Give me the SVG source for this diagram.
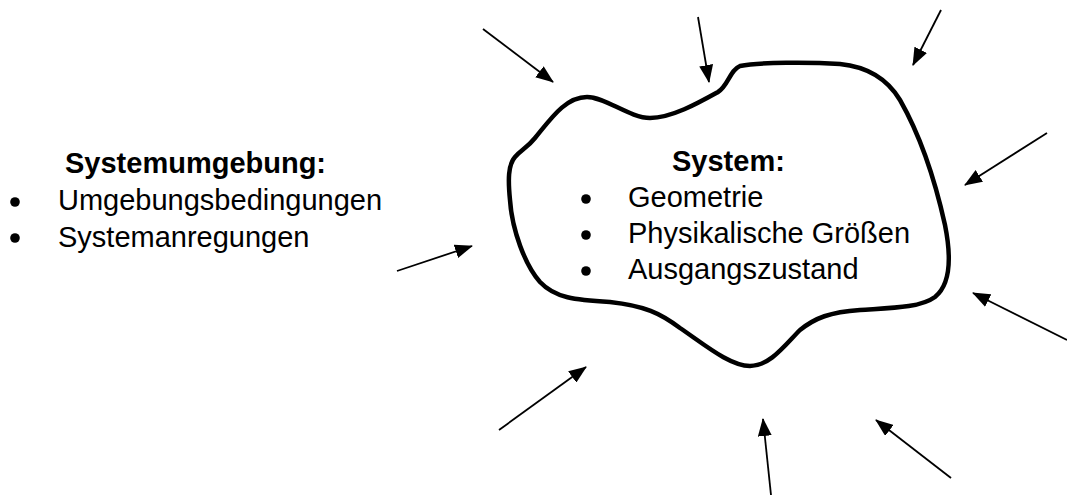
<svg xmlns="http://www.w3.org/2000/svg" width="1067" height="495" viewBox="0 0 1067 495">
  <style>
    text { font-family: "Liberation Sans", Arial, sans-serif; font-size: 29px; fill: #000; }
    .title { font-weight: bold; }
    .bullet { fill: #000; }
    .outline { fill: none; stroke: #000; stroke-width: 4.5; stroke-linejoin: round; }
    .arrow { stroke: #000; stroke-width: 1.8; fill: none; marker-end: url(#head); }
  </style>
  <defs>
    <marker id="head" markerUnits="userSpaceOnUse" markerWidth="18" markerHeight="14" refX="17" refY="7" orient="auto">
      <path d="M0,0 L18,7 L0,14 Z" fill="#000"/>
    </marker>
  </defs>
  <rect width="1067" height="495" fill="#fff"/>

  <!-- environment description -->
  <g id="environment">
    <text class="title" x="65" y="173">Systemumgebung:</text>
    <circle class="bullet" cx="15" cy="202" r="4.8"/>
    <text x="58" y="210">Umgebungsbedingungen</text>
    <circle class="bullet" cx="15" cy="238" r="4.8"/>
    <text x="58" y="247">Systemanregungen</text>
  </g>

  <!-- system boundary with its contents -->
  <g id="system">
    <path class="outline" d="M 510,200
      C 508,180 508,165 515,157
      C 521,150 527,148 535,138
      C 550,120 565,97 587,97
      C 605,97 630,118 650,118
      C 672,118 700,102 718,92
      C 728,86 730,70 740,66
      C 760,62 810,62 840,64
      C 870,67 888,80 900,100
      C 920,135 935,180 945,225
      C 952,260 950,285 935,297
      C 920,308 890,308 860,310
      C 830,312 815,318 800,330
      C 785,345 770,366 750,366
      C 730,366 705,345 680,328
      C 660,313 645,306 610,302
      C 575,300 555,298 540,282
      C 525,265 512,230 510,200 Z"/>
    <text class="title" x="672" y="171">System:</text>
    <circle class="bullet" cx="586" cy="199" r="4.8"/>
    <text x="628" y="207">Geometrie</text>
    <circle class="bullet" cx="586" cy="235" r="4.8"/>
    <text x="628" y="243">Physikalische Größen</text>
    <circle class="bullet" cx="586" cy="271" r="4.8"/>
    <text x="628" y="279">Ausgangszustand</text>
  </g>

  <!-- influences acting on the system -->
  <g id="connectors">
    <line class="arrow" x1="483" y1="29" x2="553" y2="82"/>
    <line class="arrow" x1="698" y1="17" x2="709" y2="82"/>
    <line class="arrow" x1="941" y1="10" x2="913" y2="65"/>
    <line class="arrow" x1="1047" y1="133" x2="965" y2="185"/>
    <line class="arrow" x1="1067" y1="340" x2="973" y2="293"/>
    <line class="arrow" x1="951" y1="478" x2="876" y2="420"/>
    <line class="arrow" x1="771" y1="495" x2="763" y2="419"/>
    <line class="arrow" x1="499" y1="430" x2="586" y2="367"/>
    <line class="arrow" x1="397" y1="271" x2="472" y2="246"/>
  </g>
</svg>
